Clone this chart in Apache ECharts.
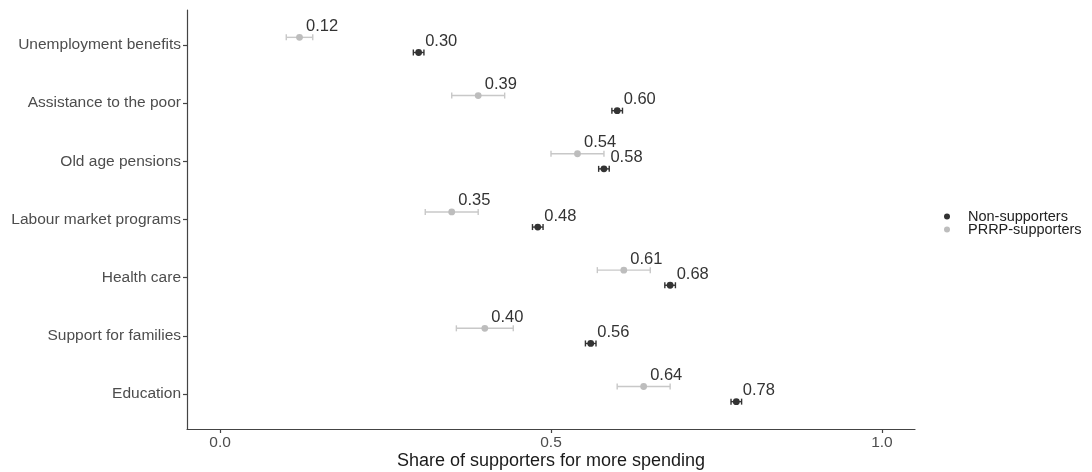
<!DOCTYPE html>
<html>
<head>
<meta charset="utf-8">
<style>
  html, body { margin: 0; padding: 0; background: #fff; }
  #chart { width: 1092px; height: 472px; }
</style>
<script src="https://cdn.jsdelivr.net/npm/echarts@6/dist/echarts.min.js"></script>
</head>
<body>
<div id="chart"></div>
<script>
// Spending areas, top to bottom
const categories = [
  'Unemployment benefits',
  'Assistance to the poor',
  'Old age pensions',
  'Labour market programs',
  'Health care',
  'Support for families',
  'Education'
];

// Non-supporters: share in favour of more spending with confidence bounds
const nonMean = [0.30, 0.60, 0.58, 0.48, 0.68, 0.56, 0.78];
const nonLow  = [0.292, 0.592, 0.572, 0.472, 0.672, 0.552, 0.772];
const nonHigh = [0.308, 0.608, 0.588, 0.488, 0.688, 0.568, 0.788];

// PRRP-supporters
const prrpMean = [0.12, 0.39, 0.54, 0.35, 0.61, 0.40, 0.64];
const prrpLow  = [0.10, 0.35, 0.50, 0.31, 0.57, 0.357, 0.60];
const prrpHigh = [0.14, 0.43, 0.58, 0.39, 0.65, 0.443, 0.68];

const xTicks = [0, 0.5, 1.0];
const yTicks = categories.map((c, i) => i);

const FONT = '"Liberation Sans", Arial, Helvetica, sans-serif';

function rows(mean, low, high) {
  return mean.map((m, i) => [i, m, low[i], high[i]]);
}

// Point with horizontal error bar, dodged around the category position
function makeRenderer(dodge, pointColor, barColor) {
  return function (params, api) {
    const idx = api.value(0);
    const mean = api.value(1);
    const lo = api.value(2);
    const hi = api.value(3);
    const unit = api.size([0, 1])[1];
    const off = dodge * unit;
    const p = api.coord([mean, idx]);
    const pl = api.coord([lo, idx]);
    const ph = api.coord([hi, idx]);
    const y = p[1] + off;
    const cap = 3;
    const lineStyle = { stroke: barColor, lineWidth: 1.4 };
    return {
      type: 'group',
      children: [
        { type: 'line', shape: { x1: pl[0], y1: y, x2: ph[0], y2: y }, style: lineStyle },
        { type: 'line', shape: { x1: pl[0], y1: y - cap, x2: pl[0], y2: y + cap }, style: lineStyle },
        { type: 'line', shape: { x1: ph[0], y1: y - cap, x2: ph[0], y2: y + cap }, style: lineStyle },
        { type: 'circle', shape: { cx: p[0], cy: y, r: 3.4 }, style: { fill: pointColor } },
        {
          type: 'text',
          style: {
            text: mean.toFixed(2),
            x: p[0] + 6.5,
            y: y - 11,
            fill: '#333333',
            fontSize: 16.5,
            fontFamily: FONT,
            align: 'left',
            verticalAlign: 'middle'
          }
        }
      ]
    };
  };
}

const chart = echarts.init(document.getElementById('chart'), null, { renderer: 'canvas' });

chart.setOption({
  backgroundColor: '#ffffff',
  animation: false,
  grid: { left: 187, right: 177, top: 10, bottom: 43, containLabel: false, outerBoundsMode: 'none' },
  legend: {
    orient: 'vertical',
    left: 939,
    top: 204,
    icon: 'circle',
    itemWidth: 6,
    itemHeight: 6,
    itemGap: -2,
    data: ['Non-supporters', 'PRRP-supporters'],
    textStyle: {
      fontSize: 14.5,
      fontFamily: FONT,
      color: '#222222',
      padding: [0, 0, 0, 13],
      lineHeight: 14
    }
  },
  xAxis: {
    type: 'value',
    min: -0.05,
    max: 1.05,
    name: 'Share of supporters for more spending',
    nameLocation: 'middle',
    nameGap: 23,
    nameMoveOverlap: false,
    nameTextStyle: { fontSize: 18, fontFamily: FONT, color: '#1a1a1a' },
    axisLine: { show: true, onZero: false, lineStyle: { color: '#444444', width: 1.2 } },
    axisTick: { show: true, length: 4, customValues: xTicks, lineStyle: { color: '#444444', width: 1.2 } },
    axisLabel: {
      customValues: xTicks,
      formatter: v => v.toFixed(1),
      fontSize: 15.5,
      fontFamily: FONT,
      color: '#4d4d4d',
      margin: 6
    },
    splitLine: { show: false }
  },
  yAxis: {
    type: 'value',
    min: -0.6,
    max: 6.6,
    inverse: true,
    axisLine: { show: true, onZero: false, lineStyle: { color: '#444444', width: 1.2 } },
    axisTick: { show: true, length: 4, customValues: yTicks, lineStyle: { color: '#444444', width: 1.2 } },
    axisLabel: {
      customValues: yTicks,
      formatter: v => categories[Math.round(v)],
      fontSize: 15.5,
      fontFamily: FONT,
      color: '#4d4d4d',
      margin: 6
    },
    splitLine: { show: false }
  },
  series: [
    {
      name: 'PRRP-supporters',
      type: 'custom',
      itemStyle: { color: '#bdbdbd' },
      encode: { x: [1, 2, 3], y: 0 },
      data: rows(prrpMean, prrpLow, prrpHigh),
      renderItem: makeRenderer(-0.13, '#bdbdbd', '#c8c8c8')
    },
    {
      name: 'Non-supporters',
      type: 'custom',
      itemStyle: { color: '#333333' },
      encode: { x: [1, 2, 3], y: 0 },
      data: rows(nonMean, nonLow, nonHigh),
      renderItem: makeRenderer(0.13, '#333333', '#333333')
    }
  ]
});
</script>
</body>
</html>
